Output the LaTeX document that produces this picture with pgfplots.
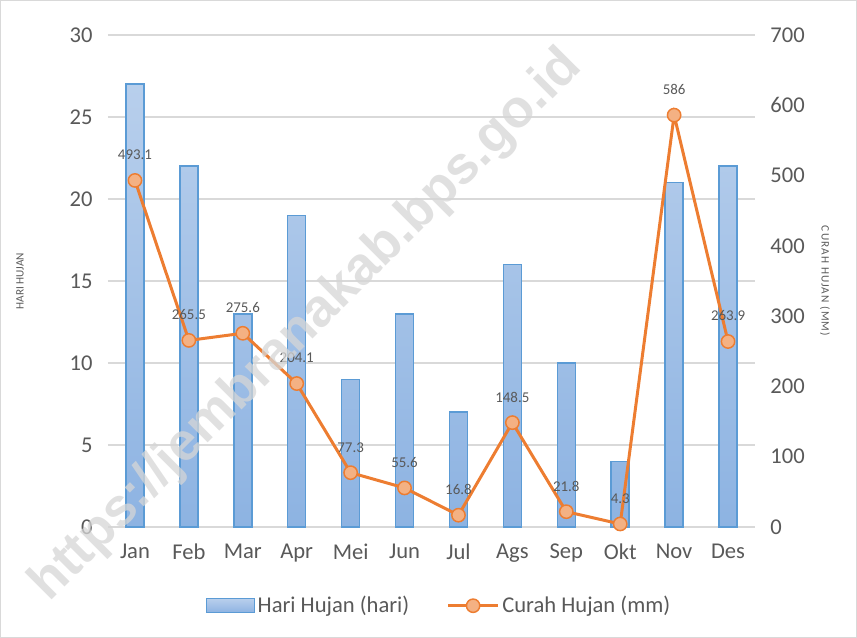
\documentclass[border=0pt]{standalone}
\usepackage{fontspec}
\setmainfont{Carlito}
\newfontfamily\wmfont{Liberation Sans}
\newfontfamily\spacedfont[LetterSpace=10]{Carlito}
\usepackage{pgfplots}
\pgfplotsset{compat=1.18}
\definecolor{txt}{HTML}{595959}
\definecolor{gridc}{HTML}{D9D9D9}
\definecolor{barline}{HTML}{5B9BD5}
\definecolor{bartop}{HTML}{B8CFEC}
\definecolor{barbot}{HTML}{8DB3E2}
\definecolor{orng}{HTML}{ED7D31}
\definecolor{mfill}{HTML}{F4B183}
\begin{document}
\begin{tikzpicture}
\useasboundingbox (-81bp,-83.25bp) rectangle (561.75bp,395.25bp);
\draw[gridc, line width=0.75bp] (-80.6bp,-82.85bp) rectangle (561.35bp,394.85bp);
\begin{axis}[
  at={(0,0)}, anchor=south west,
  scale only axis, width=485.25bp, height=369bp,
  xmin=-0.5, xmax=11.5, ymin=0, ymax=30,
  xtick={0,1,...,11},
  xticklabels={Jan,Feb,Mar,Apr,Mei,Jun,Jul,Ags,Sep,Okt,Nov,Des},
  ytick={0,5,...,30},
  axis line style={draw=none},
  major tick length=0pt, tick style={draw=none},
  ymajorgrids, grid style={gridc, line width=1.1bp},
  /pgf/number format/assume math mode=true,
  ticklabel style={font=\fontsize{17}{20}\selectfont, text=txt},
  yticklabel style={xshift=-8bp},
  xticklabel style={yshift=-9bp},
  ybar, bar width=13.5bp,
  clip=false,
]
\addplot[draw=barline, line width=1.1bp, top color=bartop, bottom color=barbot]
  coordinates {(0,27) (1,22) (2,13) (3,19) (4,9) (5,13) (6,7) (7,16) (8,10) (9,4) (10,21) (11,22)};
\node[rotate=90, font=\fontsize{8.5}{10}\selectfont, text=txt] at (axis description cs:-0.136,0.5) {HARI HUJAN};
\end{axis}
\begin{axis}[
  at={(0,0)}, anchor=south west,
  scale only axis, width=485.25bp, height=369bp,
  xmin=-0.5, xmax=11.5, ymin=0, ymax=700,
  ytick={0,100,...,700},
  axis y line*=right, hide x axis,
  axis line style={draw=none},
  major tick length=0pt, tick style={draw=none},
  /pgf/number format/assume math mode=true,
  ticklabel style={font=\fontsize{17}{20}\selectfont, text=txt},
  yticklabel style={xshift=8bp},
  clip=false,
  legend style={at={(0.512,-0.16)}, anchor=center, draw=none, fill=none,
    font=\fontsize{17}{20}\selectfont, text=txt,
    /tikz/every even column/.append style={column sep=26bp}},
  legend columns=2,
]
\addlegendimage{legend image code/.code={\draw[draw=barline, line width=1.1bp, top color=bartop, bottom color=barbot] (0bp,-5.25bp) rectangle (36bp,5.25bp);}}
\addlegendentry{Hari Hujan (hari)}
\addplot[orng, line width=2.25bp, mark=*, mark size=5bp,
  mark options={fill=mfill, draw=orng, line width=1.1bp},
  nodes near coords,
  every node near coord/.append style={font=\fontsize{11.25}{13}\selectfont, text=txt, anchor=south, yshift=11.5bp},
  legend image code/.code={\draw[orng,line width=2.25bp] (0bp,0bp)--(37.5bp,0bp); \draw[orng, fill=mfill, line width=1.1bp] (18.75bp,0bp) circle (5bp);}]
  coordinates {(0,493.1) (1,265.5) (2,275.6) (3,204.1) (4,77.3) (5,55.6) (6,16.8) (7,148.5) (8,21.8) (9,4.3) (10,586) (11,263.9)};
\addlegendentry{Curah Hujan (mm)}
\node[rotate=-90, font=\spacedfont\fontsize{8.5}{10}\selectfont, text=txt] at (axis description cs:1.108,0.5) {CURAH HUJAN (MM)};
\end{axis}
\node[rotate=45, font=\wmfont\bfseries\fontsize{40}{44}\selectfont, text=gray!32, opacity=0.75] at (149bp,151bp) {https://jembranakab.bps.go.id};
\end{tikzpicture}
\end{document}
